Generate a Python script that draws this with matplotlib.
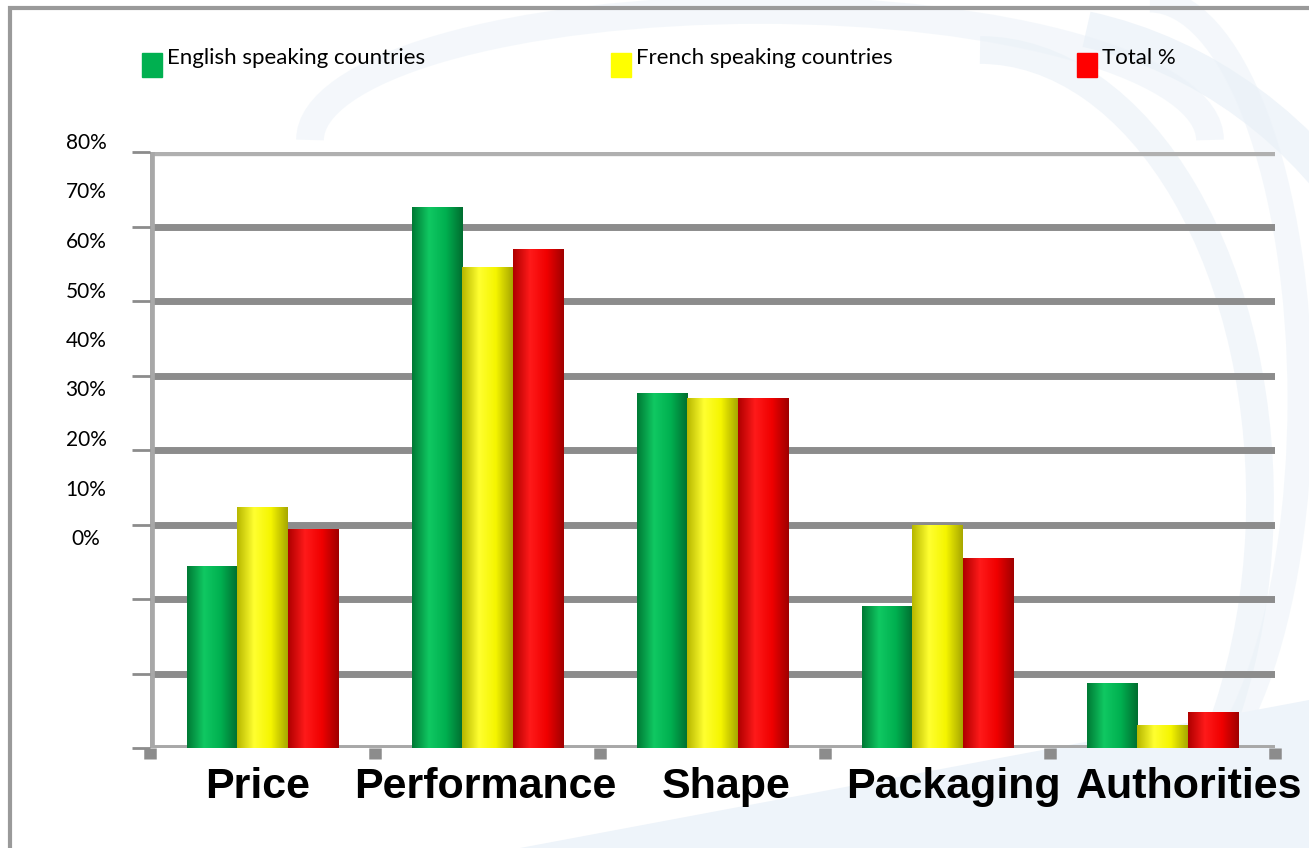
import numpy as np
import matplotlib.pyplot as plt
from matplotlib.patches import Arc, Rectangle, Polygon
from matplotlib.colors import LinearSegmentedColormap

categories = ["Price", "Performance", "Shape", "Packaging", "Authorities"]
english = [24.3, 72.6, 47.6, 19.0, 8.7]
french = [32.3, 64.5, 46.9, 29.8, 3.0]
total = [29.3, 66.9, 46.9, 25.5, 4.8]
series_names = ["English speaking countries", "French speaking countries", "Total %"]
y_labels = ["0%", "10%", "20%", "30%", "40%", "50%", "60%", "70%", "80%"]

colors = ["#00b050", "#ffff00", "#ff0000"]
shades = [
    ["#007a35", "#10c862", "#00b050", "#006e30"],
    ["#b8b800", "#ffff30", "#f5f500", "#a8a800"],
    ["#b00000", "#ff1a1a", "#f00000", "#a00000"],
]

fig = plt.figure(figsize=(13.09, 8.48), dpi=100)
fig.patch.set_facecolor("white")

# faint globe watermark behind everything
bg = fig.add_axes([0, 0, 1, 1], zorder=-10)
bg.set_xlim(0, 1309)
bg.set_ylim(848, 0)
bg.axis("off")
wm = "#eaf1f8"
bg.add_patch(Arc((1000, 520), 900, 1000, theta1=-80, theta2=100, color=wm, lw=26, alpha=0.7))
bg.add_patch(Arc((980, 500), 560, 900, theta1=-90, theta2=95, color=wm, lw=20, alpha=0.6))
bg.add_patch(Arc((760, 140), 900, 260, theta1=180, theta2=360, color=wm, lw=20, alpha=0.5))
bg.add_patch(Arc((1150, 400), 300, 800, theta1=-90, theta2=90, color=wm, lw=18, alpha=0.5))
bg.add_patch(Polygon([[520, 848], [1309, 700], [1309, 848]], closed=True, color="#eef4fa", lw=0))
# outer frame
bg.plot([10, 10, 1309], [848, 8, 8], color="#9a9a9a", lw=3, solid_joinstyle="miter")

ax = fig.add_axes([150 / 1309, 100 / 848, 1125 / 1309, 596 / 848])
ax.patch.set_alpha(0)
x = np.arange(len(categories))
w = 0.225

# gridlines
for v in range(10, 80, 10):
    ax.axhline(v, color="#8c8c8c", lw=5, zorder=1)
ax.axhline(80, color="#b0b0b0", lw=6, zorder=1)
ax.axhline(0, color="#a8a8a8", lw=5, zorder=1)
ax.axvline(-0.5, color="#a8a8a8", lw=7, zorder=1)
for s in ax.spines.values():
    s.set_visible(False)

ax.set_yticks(range(0, 81, 10))
ax.set_yticklabels([])
ax.tick_params(axis="y", length=13, width=2, color="#8c8c8c", direction="out")
ax.set_xticks(np.arange(-0.5, 5, 1.0))
ax.set_xticklabels([])
ax.tick_params(axis="x", length=8, width=9, color="#8c8c8c", direction="out")

for i, vals in enumerate([english, french, total]):
    bars = ax.bar(x + (i - 1) * w, vals, w, color=colors[i], zorder=3, label=series_names[i])
    cmap = LinearSegmentedColormap.from_list("c%d" % i, shades[i])
    grad = np.linspace(0, 1, 64).reshape(1, -1)
    for b in bars:
        ax.imshow(grad, cmap=cmap, aspect="auto", zorder=4,
                  extent=[b.get_x(), b.get_x() + b.get_width(), 0, b.get_height()])
ax.set_xlim(-0.5, 4.5)
ax.set_ylim(0, 80)

# category names, nudged the way the chart spaces them
shift = [-0.02, -0.01, 0.06, 0.07, 0.12]
for xi, dx, name in zip(x, shift, categories):
    ax.text(xi + dx, -5.2, name, ha="center", va="center", fontsize=31,
            fontweight="bold", family="Liberation Sans", clip_on=False)

# percentage labels column
lab = fig.add_axes([66 / 1309, (848 - 539) / 848, 40 / 1309, 396 / 848])
lab.set_xlim(0, 1)
lab.set_ylim(0, 80)
lab.axis("off")
for v, t in zip(range(0, 81, 10), y_labels):
    lab.text(0.5, v, t, ha="center", va="center", fontsize=15, family="Lato")

# legend row
leg = fig.add_axes([0, 0, 1, 1], zorder=5)
leg.set_xlim(0, 1309)
leg.set_ylim(848, 0)
leg.axis("off")
for px, c, t in zip([142, 611, 1077], colors, series_names):
    leg.add_patch(Rectangle((px, 53), 20, 24, color=c))
    leg.text(px + 25, 58, t, ha="left", va="center", fontsize=16, family="Lato")

fig.savefig("out.png", dpi=100)
